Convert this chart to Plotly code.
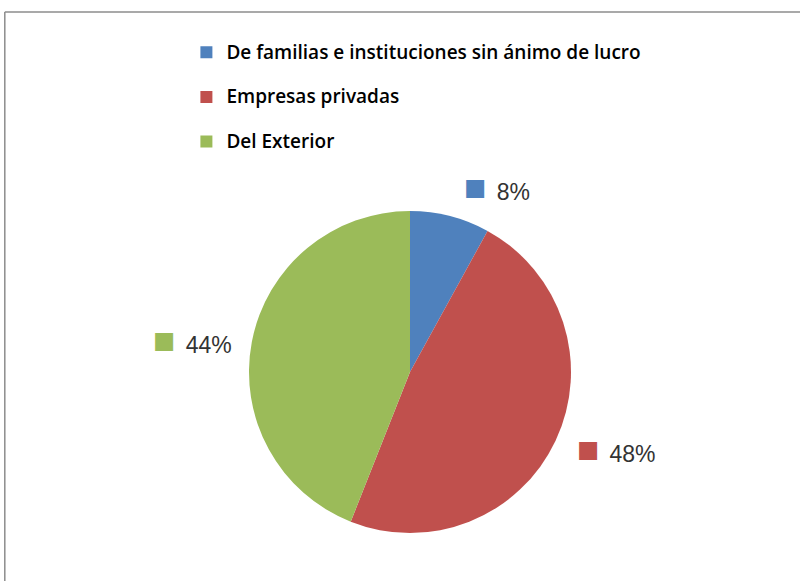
import plotly.graph_objects as go

# Fuentes de financiación
categorias = ["De familias e instituciones sin ánimo de lucro",
              "Empresas privadas",
              "Del Exterior"]
porcentajes = [8, 48, 44]
colores = ["#4F81BD", "#C0504D", "#9BBB59"]

# texto de la leyenda más grande que la fuente base y una línea vacía
# debajo para separar las filas como en el original
etiquetas = ["<span style='font-size:19px;font-weight:600'>" + c + "</span><br> "
             for c in categorias]

plantilla = ("<span style='color:%{customdata};font-size:37px'>■ </span>"
             "%{percent:.0%}")

fig = go.Figure()

# pastel invisible algo mayor: sólo sirve para colocar las etiquetas
fig.add_trace(go.Pie(
    labels=etiquetas,
    values=porcentajes,
    customdata=colores,
    sort=False,
    direction="clockwise",
    rotation=0,
    marker=dict(colors=["rgba(0,0,0,0)"] * 3, line=dict(width=0)),
    textposition="outside",
    texttemplate=plantilla,
    textfont=dict(family="Liberation Sans", size=23, color="#333333"),
    hoverinfo="skip",
    showlegend=False,
    domain=dict(x=[0.29875, 0.72875], y=[0.06196, 0.65404]),
))

fig.add_trace(go.Pie(
    labels=etiquetas,
    values=porcentajes,
    sort=False,
    direction="clockwise",
    rotation=0,
    marker=dict(colors=colores, line=dict(width=0)),
    textinfo="none",
    hoverinfo="skip",
    domain=dict(x=[0.31125, 0.71375], y=[0.0826, 0.6368]),
))

fig.update_layout(
    width=800, height=581,
    margin=dict(l=0, r=0, t=0, b=0),
    paper_bgcolor="white",
    showlegend=True,
    legend=dict(
        x=0.233, y=0.939, xanchor="left", yanchor="top",
        valign="top",
        font=dict(family="Open Sans", size=16, color="#000000"),
        bgcolor="rgba(0,0,0,0)",
    ),
    shapes=[
        dict(type="line", xref="paper", yref="paper", x0=0.006, x1=1,
             y0=1 - 12 / 581, y1=1 - 12 / 581,
             line=dict(color="#8c8c8c", width=1.5)),
        dict(type="line", xref="paper", yref="paper", x0=0.006, x1=0.006,
             y0=0, y1=1 - 12 / 581,
             line=dict(color="#8c8c8c", width=1.5)),
    ],
)

fig.write_html("out.html", config={"displayModeBar": False},
               post_script="document.body.style.margin='0';")
